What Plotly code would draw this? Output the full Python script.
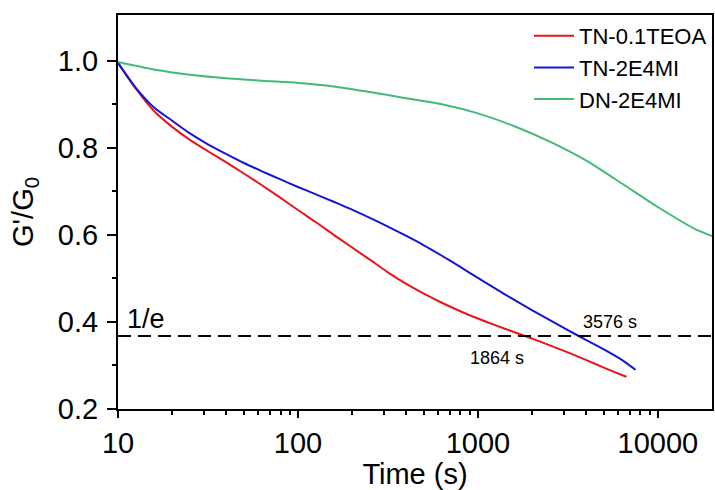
import math
import plotly.graph_objects as go

# ---- data ----
t_red = [10, 12.6, 15.8, 20, 25.1, 31.6, 39.8, 50.1, 63.1, 79.4, 100, 126, 158, 200, 251,
         316, 398, 501, 631, 794, 1000, 1259, 1585, 1995, 2512, 3162, 3981, 5012, 6310, 6700]
g_red = [0.995, 0.935, 0.885, 0.848, 0.818, 0.792, 0.767, 0.741, 0.714, 0.686, 0.657, 0.629,
         0.600, 0.571, 0.543, 0.514, 0.488, 0.465, 0.444, 0.425, 0.408, 0.392, 0.377, 0.362,
         0.346, 0.330, 0.313, 0.295, 0.278, 0.274]

t_blue = [10, 12.6, 15.8, 20, 25.1, 31.6, 39.8, 50.1, 63.1, 79.4, 100, 126, 158, 200, 251,
          316, 398, 501, 631, 794, 1000, 1259, 1585, 1995, 2512, 3162, 3981, 5012, 6310, 7520]
g_blue = [0.995, 0.937, 0.893, 0.862, 0.833, 0.808, 0.786, 0.765, 0.746, 0.728, 0.710, 0.693,
          0.676, 0.658, 0.639, 0.619, 0.598, 0.576, 0.552, 0.527, 0.501, 0.476, 0.451, 0.427,
          0.404, 0.381, 0.359, 0.337, 0.313, 0.290]

t_green = [10, 15.8, 25.1, 39.8, 63.1, 100, 158, 251, 398, 631, 1000, 1585, 2512, 3981,
           6310, 10000, 15850, 20000]
g_green = [0.997, 0.980, 0.968, 0.960, 0.954, 0.949, 0.941, 0.928, 0.914, 0.900, 0.879, 0.850,
           0.814, 0.771, 0.718, 0.664, 0.615, 0.597]

series_names = ["TN-0.1TEOA", "TN-2E4MI", "DN-2E4MI"]
series_colors = ["#E8151A", "#1515D2", "#44BA78"]

cross_times = [1864, 3576]
x_tickvals = [10, 100, 1000, 10000]
y_tickvals = [0.2, 0.4, 0.6, 0.8, 1.0]
inv_e = 1 / math.e

FONT = "Arial, Liberation Sans, sans-serif"

fig = go.Figure()
for t, g, name, col in zip([t_red, t_blue, t_green], [g_red, g_blue, g_green],
                           series_names, series_colors):
    fig.add_trace(go.Scatter(x=t, y=g, mode="lines", name=name,
                             line=dict(color=col, width=2, shape="spline", smoothing=0.7)))

# 1/e dashed line
fig.add_trace(go.Scatter(x=[10, 20000], y=[inv_e, inv_e], mode="lines", showlegend=False,
                         line=dict(color="black", width=2, dash="13px,7px")))

minor_x = [m * d for d in (10, 100, 1000) for m in range(2, 10)]

fig.update_layout(
    width=715, height=490,
    margin=dict(l=118, r=1, t=15, b=81),
    paper_bgcolor="white", plot_bgcolor="white",
    font=dict(family=FONT, color="black"),
    showlegend=True,
    legend=dict(x=1, y=1, xanchor="right", yanchor="top", bgcolor="rgba(0,0,0,0)",
                font=dict(size=22, family=FONT), borderwidth=0, tracegroupgap=0,
                itemwidth=40),
    xaxis=dict(type="log", range=[1, math.log10(20000)],
               tickmode="array", tickvals=x_tickvals, ticktext=[str(v) for v in x_tickvals],
               ticks="outside", ticklen=7, tickwidth=2, tickcolor="black",
               showline=True, linewidth=2, linecolor="black", mirror=True,
               showgrid=False, zeroline=False,
               tickfont=dict(size=29, family=FONT),
               title=dict(text="Time (s)", font=dict(size=29, family=FONT), standoff=6),
               minor=dict(tickmode="array", tickvals=minor_x, ticks="outside",
                          ticklen=4, tickwidth=2, tickcolor="black", showgrid=False)),
    yaxis=dict(range=[0.2, 1.105],
               tickmode="array", tickvals=y_tickvals, ticktext=[f"{v:.1f}" for v in y_tickvals],
               ticks="outside", ticklen=9, tickwidth=2, tickcolor="black",
               showline=True, linewidth=2, linecolor="black", mirror=True,
               showgrid=False, zeroline=False, ticklabelstandoff=3,
               tickfont=dict(size=29, family=FONT),
               title=dict(text="G'/G<sub>0</sub>", font=dict(size=29, family=FONT), standoff=16),
               minor=dict(tickmode="array", tickvals=[0.3, 0.5, 0.7, 0.9], ticks="outside",
                          ticklen=4, tickwidth=2, tickcolor="black", showgrid=False)),
)

fig.add_annotation(x=1, y=0.407, xref="x", yref="y", text="1/e", showarrow=False,
                   xanchor="left", yanchor="middle", xshift=7,
                   font=dict(size=27, family=FONT, color="black"))
fig.add_annotation(x=math.log10(cross_times[1]), y=0.40, xref="x", yref="y",
                   text=f"{cross_times[1]} s", showarrow=False,
                   xanchor="left", yanchor="middle", xshift=4,
                   font=dict(size=18, family=FONT, color="black"))
fig.add_annotation(x=math.log10(cross_times[0]), y=0.318, xref="x", yref="y",
                   text=f"{cross_times[0]} s", showarrow=False,
                   xanchor="right", yanchor="middle", xshift=-1,
                   font=dict(size=18, family=FONT, color="black"))

fig.write_html("out.html")
